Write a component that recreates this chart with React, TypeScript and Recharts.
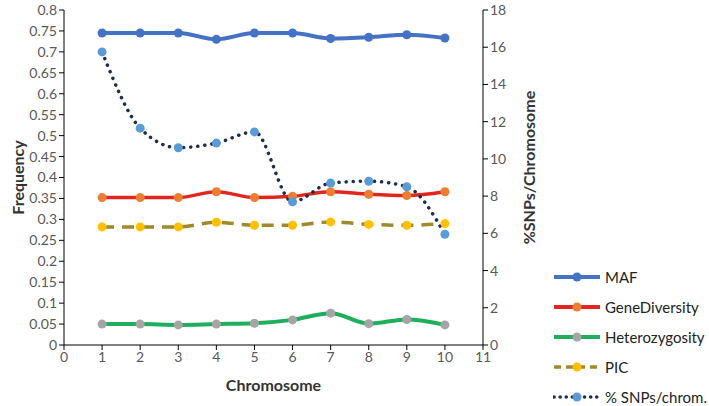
import { ComposedChart, Line, XAxis, YAxis, Label } from 'recharts';

// Chromosome numbers and series
const chromosomes = [1, 2, 3, 4, 5, 6, 7, 8, 9, 10];
const maf = [0.745, 0.745, 0.745, 0.73, 0.745, 0.745, 0.732, 0.735, 0.741, 0.733];
const geneDiversity = [0.352, 0.352, 0.352, 0.366, 0.352, 0.355, 0.366, 0.36, 0.357, 0.366];
const heterozygosity = [0.05, 0.05, 0.048, 0.05, 0.052, 0.06, 0.076, 0.051, 0.061, 0.048];
const pic = [0.282, 0.282, 0.282, 0.293, 0.286, 0.286, 0.294, 0.288, 0.286, 0.29];
const snpsPerChrom = [15.75, 11.65, 10.6, 10.85, 11.45, 7.7, 8.7, 8.8, 8.5, 5.95];

const xTicks = [0, 1, 2, 3, 4, 5, 6, 7, 8, 9, 10, 11];
const leftTicks = [0, 0.05, 0.1, 0.15, 0.2, 0.25, 0.3, 0.35, 0.4, 0.45, 0.5, 0.55, 0.6, 0.65, 0.7, 0.75, 0.8];
const rightTicks = [0, 2, 4, 6, 8, 10, 12, 14, 16, 18];

const FONT = 'Lato, "Open Sans", sans-serif';

const chartData = chromosomes.map((c, i) => ({
  chrom: c,
  MAF: maf[i],
  GeneDiversity: geneDiversity[i],
  Heterozygosity: heterozygosity[i],
  PIC: pic[i],
  snps: snpsPerChrom[i],
}));

const legendItems = [
  { label: 'MAF', line: '#4472C4', dot: '#4472C4', dash: undefined as string | undefined, width: 4 },
  { label: 'GeneDiversity', line: '#E0261F', dot: '#ED7D31', dash: undefined, width: 4 },
  { label: 'Heterozygosity', line: '#1FAE5E', dot: '#A5A5A5', dash: undefined, width: 4 },
  { label: 'PIC', line: '#9C8A2C', dot: '#FFC000', dash: '7 5', width: 3.5 },
  { label: '% SNPs/chrom.', line: '#1F2D4D', dot: '#5B9BD5', dash: '0.1 6', width: 3.5 },
];

function ChartLegend() {
  return (
    <div style={{ position: 'absolute', left: 553, top: 262, fontFamily: FONT }}>
      {legendItems.map(item => (
        <div key={item.label} style={{ display: 'flex', alignItems: 'center', height: 30 }}>
          <svg width={50} height={14}>
            <line x1={1} y1={7} x2={47} y2={7} stroke={item.line} strokeWidth={item.width}
              strokeDasharray={item.dash} strokeLinecap={item.dash === '0.1 6' ? 'round' : 'butt'} />
            <circle cx={24} cy={7} r={4.5} fill={item.dot} />
          </svg>
          <span style={{ fontSize: 15, color: '#222', marginLeft: 2 }}>{item.label}</span>
        </div>
      ))}
    </div>
  );
}

export default function App() {
  const tickStyle = { fill: '#595959', fontSize: 14, fontFamily: FONT };
  return (
    <div style={{ position: 'absolute', left: 0, top: 0, width: 709, height: 406, background: '#fff' }}>
      <ComposedChart width={709} height={406} data={chartData}
        margin={{ top: 10, right: 166, left: 14, bottom: 11 }}>
        <XAxis dataKey="chrom" type="number" domain={[0, 11]} ticks={xTicks} interval={0}
          stroke="#000" tickSize={5} tick={tickStyle} height={50}>
          <Label value="Chromosome" position="insideBottom" offset={4}
            style={{ fontSize: 16, fontWeight: 'bold', fill: '#333', fontFamily: FONT }} />
        </XAxis>
        <YAxis yAxisId="left" domain={[0, 0.8]} ticks={leftTicks} interval={0} width={50}
          stroke="#000" tickSize={5} tick={tickStyle}>
          <Label value="Frequency" angle={-90} position="insideLeft" offset={4}
            style={{ fontSize: 16, fontWeight: 'bold', fill: '#333', fontFamily: FONT, textAnchor: 'middle' }} />
        </YAxis>
        <YAxis yAxisId="right" orientation="right" domain={[0, 18]} ticks={rightTicks} interval={0} width={60}
          stroke="#000" tickSize={5} tick={tickStyle}>
          <Label value="%SNPs/Chromosome" angle={-90} position="insideRight" offset={14} dy={-10}
            style={{ fontSize: 16, fontWeight: 'bold', fill: '#333', fontFamily: FONT, textAnchor: 'middle' }} />
        </YAxis>
        <Line yAxisId="left" type="monotone" dataKey="MAF" stroke="#4472C4" strokeWidth={4}
          dot={{ r: 4.5, fill: '#4472C4', stroke: 'none' }} isAnimationActive={false} />
        <Line yAxisId="left" type="monotone" dataKey="GeneDiversity" stroke="#E0261F" strokeWidth={3.5}
          dot={{ r: 4.5, fill: '#ED7D31', stroke: 'none' }} isAnimationActive={false} />
        <Line yAxisId="left" type="monotone" dataKey="Heterozygosity" stroke="#1FAE5E" strokeWidth={4}
          dot={{ r: 4.5, fill: '#A5A5A5', stroke: 'none' }} isAnimationActive={false} />
        <Line yAxisId="left" type="monotone" dataKey="PIC" stroke="#9C8A2C" strokeWidth={3.5}
          strokeDasharray="12 8" dot={{ r: 4.5, fill: '#FFC000', stroke: 'none' }} isAnimationActive={false} />
        <Line yAxisId="right" type="monotone" dataKey="snps" stroke="#1F2D4D" strokeWidth={3.5}
          strokeDasharray="0.1 7" strokeLinecap="round"
          dot={{ r: 4.5, fill: '#5B9BD5', stroke: 'none', strokeDasharray: '' }} isAnimationActive={false} />
      </ComposedChart>
      <ChartLegend />
    </div>
  );
}
